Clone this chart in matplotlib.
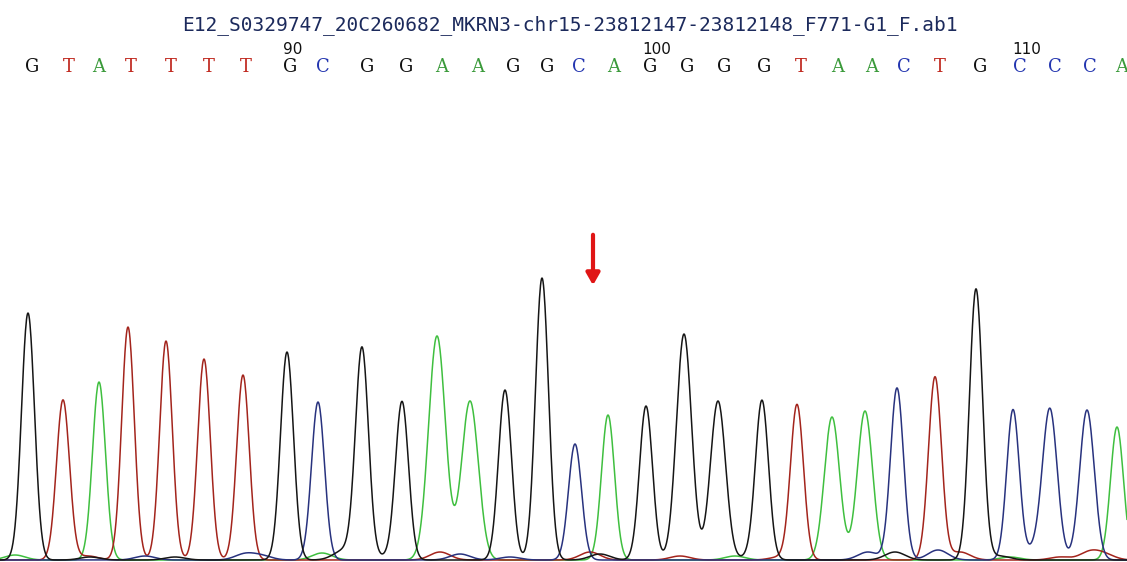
import numpy as np
import matplotlib.pyplot as plt

# base calls shown along the top
bases = list("GTATTTTGCGGAAGGCAGGGGTAACTGCCCA")
base_x = [32, 69, 99, 131, 171, 209, 246, 290, 323, 367, 406, 442, 478, 513, 547,
          579, 614, 650, 687, 724, 764, 801, 838, 872, 904, 940, 980, 1020, 1055, 1090, 1122]
marks = {90: 293, 100: 657, 110: 1027}

# main peaks: channel, scan position, intensity, width
peak_base = list("GTATTTTGCGGAAGGCAGGGGTAACTGCCCA")
peak_x = [28, 63, 99, 128, 166, 204, 243, 287, 318, 362, 402, 437, 470, 505, 542,
          575, 608, 646, 684, 718, 762, 797, 832, 865, 897, 935, 976, 1013, 1050, 1087, 1117]
peak_h = [247, 160, 178, 233, 219, 201, 185, 208, 158, 210, 158, 224, 159, 170, 282,
          116, 145, 154, 226, 159, 156, 155, 143, 149, 172, 183, 271, 150, 146, 150, 133]
peak_w = [6.5, 6.5, 6.5, 6.3, 6.3, 6.3, 6.3, 6.5, 6.5, 6.5, 6.5, 8.4, 8.4, 6.5, 6.5,
          6.5, 6.5, 6.5, 7.6, 7.6, 6.5, 6.5, 7.6, 7.6, 6.5, 6.5, 6.5, 6.3, 7.3, 7.3, 6.5]

# small background bumps near the baseline
noise_base = list("AGTCGCCAGGTCGCTGTAGTCGCTCTATGT")
noise_x = [15, 90, 88, 145, 175, 245, 262, 322, 340, 348, 440, 460, 385, 510, 590,
           600, 680, 735, 755, 780, 868, 895, 938, 960, 1038, 1090, 1010, 1105, 1000, 1060]
noise_h = [5, 3, 4, 4, 3, 6, 4, 7, 4, 7, 8, 6, 3, 3, 8,
           6, 4, 4, 5, 3, 8, 8, 10, 8, 12, 8, 3, 5, 4, 3]

trace_col = {'G': '#151515', 'T': '#a3241c', 'A': '#3fbf3f', 'C': '#28327e'}
text_col = {'G': '#111111', 'T': '#c0281e', 'A': '#3a9a3a', 'C': '#2436b0'}

fig = plt.figure(figsize=(11.27, 5.62), dpi=100)
ax = fig.add_axes([0, 0, 1, 1])
ax.set_xlim(0, 1127)
ax.set_ylim(-2, 560)
ax.axis('off')

x = np.arange(0, 1127.5, 0.5)
for ch in "ATCG":
    y = np.zeros_like(x)
    for b, px, h, w in zip(peak_base, peak_x, peak_h, peak_w):
        if b == ch:
            y += h * np.exp(-(x - px) ** 2 / (2 * w ** 2))
    for b, px, h in zip(noise_base, noise_x, noise_h):
        if b == ch:
            y += h * np.exp(-(x - px) ** 2 / (2 * 10 ** 2))
    ax.plot(x, y, color=trace_col[ch], lw=1.1)

tr = ax.get_xaxis_transform()
for b, bx in zip(bases, base_x):
    ax.text(bx, 1 - 67 / 562, b, transform=tr, ha='center', va='center',
            family='DejaVu Serif', fontsize=13, color=text_col[b])
for n, mx in marks.items():
    ax.text(mx, 1 - 50 / 562, str(n), transform=tr, ha='center', va='center',
            fontsize=11, color='#111111')

fig.text(570 / 1127, 1 - 25 / 562, "E12_S0329747_20C260682_MKRN3-chr15-23812147-23812148_F771-G1_F.ab1",
         ha='center', va='center', family='DejaVu Sans Mono', fontsize=14, color='#1c2a5c')

ax.annotate('', xy=(593, 560 - 288), xytext=(593, 560 - 232),
            arrowprops=dict(arrowstyle='-|>,head_width=0.4,head_length=0.7',
                            lw=3, color='#e01515'))

fig.savefig('out.png', dpi=100)
